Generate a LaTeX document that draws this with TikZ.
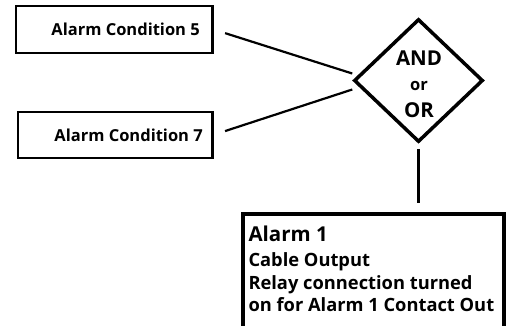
\documentclass[tikz,border=0pt]{standalone}
\usepackage{fontspec}
\setmainfont{Open Sans}
\usetikzlibrary{shapes.geometric}
\begin{document}
\begin{tikzpicture}[x=1pt,y=-1pt,
  condbox/.style={draw,line width=2.3pt,inner sep=0pt},
  condtxt/.style={anchor=base east,inner sep=0pt,font=\bfseries\fontsize{16.5}{18}\selectfont},
  gate/.style={draw,shape=diamond,line width=3.5pt,inner sep=0pt,minimum width=129pt,minimum height=123pt},
  gatetxt/.style={anchor=base,inner sep=0pt,font=\bfseries\fontsize{20.5}{24}\selectfont},
  outbox/.style={draw,line width=4.4pt,inner sep=0pt},
  outtxt/.style={anchor=base west,inner sep=0pt,font=\bfseries\fontsize{18.3}{22}\selectfont},
  wire/.style={line width=2.2pt}
]
\useasboundingbox (0,0) rectangle (510,325);
\node[condbox,minimum width=196.5pt,minimum height=46.5pt] (c5) at (114.25,29.5) {};
\node[condtxt] (t5) at (200,35.7) {Alarm Condition 5};
\node[condbox,minimum width=194.2pt,minimum height=46.1pt] (c7) at (115.4,134.8) {};
\node[condtxt] (t7) at (203,141.7) {Alarm Condition 7};
\node[gate] (g) at (418.5,80.5) {};
\node[gatetxt] (and) at (419,65) {AND};
\node[gatetxt,font=\bfseries\fontsize{16.5}{20}\selectfont] (or1) at (419,90) {or};
\node[gatetxt] (or2) at (419,117) {OR};
\node[outbox,anchor=north west,minimum width=261pt,minimum height=130pt] (out) at (240.5,212) {};
\node[outtxt,font=\bfseries\fontsize{20.5}{24}\selectfont] (l1) at (248.3,241.7) {Alarm 1};
\node[outtxt] (l2) at (248.3,266) {Cable Output};
\node[outtxt] (l3) at (248.3,289.3) {Relay connection turned};
\node[outtxt] (l4) at (248.3,311.7) {on for Alarm 1 Contact Out};
\draw[wire,shorten <=12pt] (c5.east) -- ([yshift=7pt]g.west);
\draw[wire,shorten <=12pt] (c7.east) -- ([yshift=-9pt]g.west);
\draw[wire,shorten <=5pt,shorten >=9pt] (g.south) -- (g.south |- out.north);
\end{tikzpicture}
\end{document}
